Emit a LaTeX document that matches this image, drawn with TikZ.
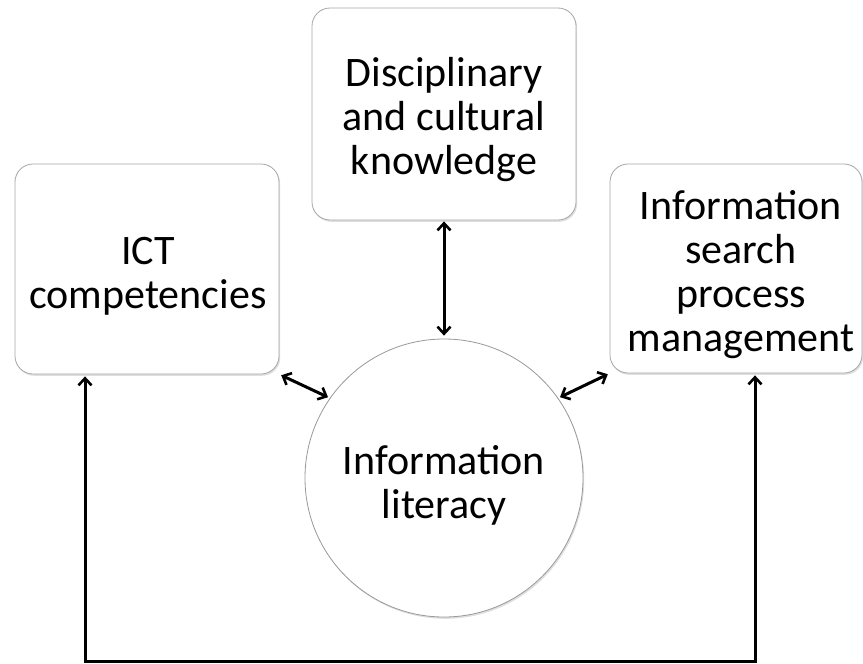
\documentclass[tikz,border=0pt]{standalone}
\usepackage{fontspec}
\setmainfont{Carlito}
\usetikzlibrary{arrows.meta,shadows}
\begin{document}
\begin{tikzpicture}[x=1pt,y=-1pt,
  lbl/.style={font=\fontsize{42}{44}\selectfont, align=center, inner sep=0pt},
  rbox/.style={draw=black!35, line width=0.8pt, fill=white, rounded corners=18pt,
    drop shadow={opacity=0.25, shadow xshift=1.2pt, shadow yshift=-1.8pt}},
  cbox/.style={circle, draw=black!40, line width=0.8pt, fill=white,
    drop shadow={opacity=0.25, shadow xshift=1.2pt, shadow yshift=-1.8pt}},
  arr/.style={line width=3pt, black, {Straight Barb[length=7pt,width=13pt,line width=2.6pt]}-{Straight Barb[length=7pt,width=13pt,line width=2.6pt]}}
]
\useasboundingbox (0,0) rectangle (863,664);
\node[rbox, minimum width=264pt, minimum height=210pt] (ict) at (147,269) {};
\node[rbox, minimum width=264pt, minimum height=212pt] (dis) at (444,114) {};
\node[rbox, minimum width=252pt, minimum height=209pt] (isp) at (736,268.5) {};
\node[cbox, minimum size=278pt] (il) at (444,478) {};
\node[lbl] (ict-t) at (148,276) {ICT\\competencies};
\node[lbl] (dis-t) at (444,120) {Disciplinary\\and cultural\\knowledge};
\node[lbl] (isp-t) at (741,275) {Information\\search\\process\\management};
\node[lbl] (il-t) at (444,485) {Information\\literacy};
\coordinate (bl) at (85,661);
\coordinate (br) at (755,661);
\draw[arr, shorten <=1pt, shorten >=3pt] (dis.south) -- (il.north);
\draw[arr, shorten <=2pt, shorten >=2pt] (ict.south east) -- (il.145);
\draw[arr, shorten <=2pt, shorten >=2pt] (isp.south west) -- (il.35);
\draw[arr, line join=miter, shorten <=2pt, shorten >=2pt] (ict.south -| bl) -- (bl) -- (br) -- (isp.south -| br);
\end{tikzpicture}
\end{document}
